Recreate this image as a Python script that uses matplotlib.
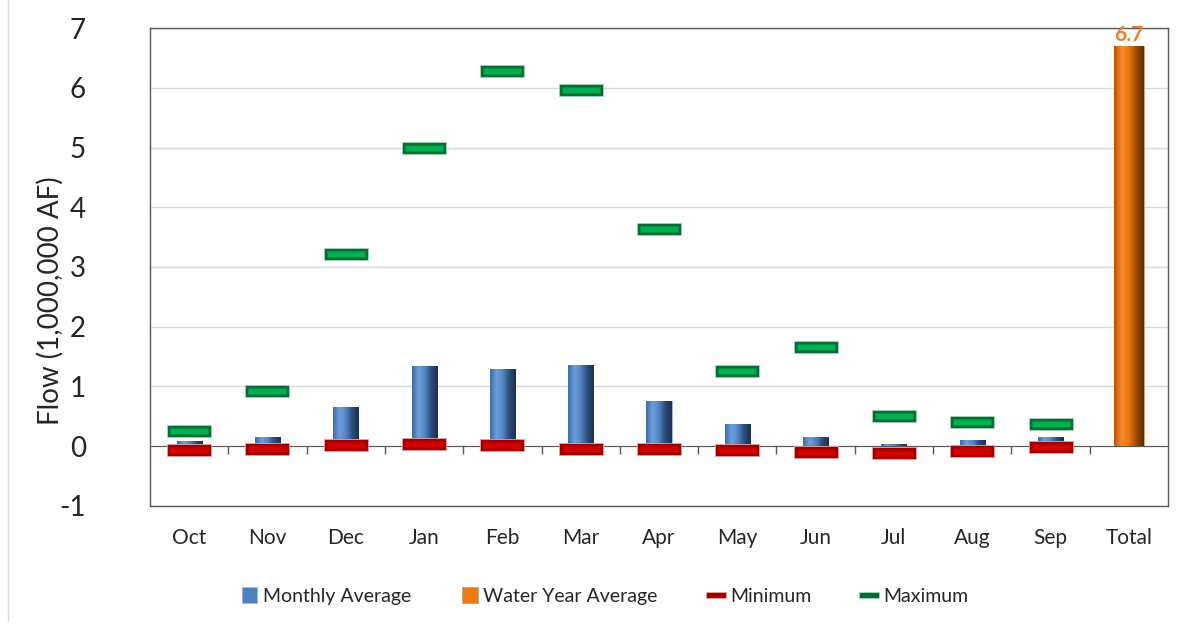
import numpy as np
import matplotlib
matplotlib.use("Agg")
import matplotlib.pyplot as plt
from matplotlib.path import Path
from matplotlib.lines import Line2D
from matplotlib.colors import LinearSegmentedColormap

plt.rcParams['font.family'] = ['Lato', 'DejaVu Sans']
plt.rcParams['axes.unicode_minus'] = False

# data (million acre-feet)
months = ['Oct', 'Nov', 'Dec', 'Jan', 'Feb', 'Mar', 'Apr', 'May', 'Jun', 'Jul', 'Aug', 'Sep']
monthly_avg = [0.08, 0.15, 0.65, 1.34, 1.29, 1.36, 0.75, 0.37, 0.15, 0.03, 0.11, 0.15]
minimum = [-0.06, -0.04, 0.02, 0.04, 0.02, -0.04, -0.04, -0.06, -0.10, -0.12, -0.08, -0.02]
maximum = [0.25, 0.93, 3.22, 4.99, 6.28, 5.96, 3.63, 1.26, 1.66, 0.51, 0.41, 0.37]
total_label = 'Total'
water_year_avg = 6.7

categories = months + [total_label]
x_m = np.arange(len(months))
x_tot = len(months)


def rect_marker(w, h):
    return Path([(-w / 2, -h / 2), (w / 2, -h / 2), (w / 2, h / 2), (-w / 2, h / 2), (-w / 2, -h / 2)],
                [Path.MOVETO, Path.LINETO, Path.LINETO, Path.LINETO, Path.CLOSEPOLY])


def shade(ax, bars, cmap):
    # fake the excel bevel look with a horizontal gradient clipped to each bar
    grad = np.linspace(0, 1, 64).reshape(1, -1)
    for p in bars:
        x0, y0, w, h = p.get_x(), p.get_y(), p.get_width(), p.get_height()
        im = ax.imshow(grad, extent=[x0, x0 + w, y0, y0 + h], cmap=cmap,
                       aspect='auto', zorder=p.get_zorder(), interpolation='bicubic')
        im.set_clip_path(p)


blue_cm = LinearSegmentedColormap.from_list('b', ['#3D6DA8', '#6E9FDA', '#5184C2', '#2A4B78', '#1B3152'])
orange_cm = LinearSegmentedColormap.from_list('o', ['#B85503', '#F98C2C', '#EE760F', '#9C4A03', '#5E2C00'])

fig = plt.figure(figsize=(11.77, 6.28), dpi=100)
ax = fig.add_axes([0.1274, 0.1943, 0.865, 0.7611])

ax.set_xlim(-0.5, len(categories) - 0.5)
ax.set_ylim(-1, 7)
ax.set_yticks(range(-1, 8))
ax.yaxis.grid(True, color='#D9D9D9', lw=1)
ax.set_axisbelow(True)

b1 = ax.bar(x_m, monthly_avg, width=0.32, color='#4F81BD', edgecolor='#9DB8DA', lw=0.6,
            zorder=2, label='Monthly Average')
b2 = ax.bar([x_tot], [water_year_avg], width=0.38, color='#F07A12', edgecolor='#C3A27E', lw=0.6,
            zorder=2, label='Water Year Average')
shade(ax, b1, blue_cm)
shade(ax, b2, orange_cm)
ax.set_xlim(-0.5, len(categories) - 0.5)
ax.set_ylim(-1, 7)

ax.text(x_tot, water_year_avg + 0.02, f'{water_year_avg:.1f}', ha='center', va='bottom',
        color='#ED7D31', fontsize=15, fontweight='bold')

outer = rect_marker(1, 0.29)
inner = rect_marker(1, 0.16)
mn, = ax.plot(x_m, minimum, ls='none', marker=outer, ms=31.5, mfc='#A00000', mec='#E6A0A0',
              mew=0.6, zorder=4, label='Minimum')
ax.plot(x_m, minimum, ls='none', marker=inner, ms=27, mfc='#D00000', mec='none', zorder=5)
mx, = ax.plot(x_m, maximum, ls='none', marker=outer, ms=31.5, mfc='#0B6B35', mec='#9ED9B5',
              mew=0.6, zorder=4, label='Maximum')
ax.plot(x_m, maximum, ls='none', marker=inner, ms=27, mfc='#00B050', mec='none', zorder=5)

# zero line with the category separators
zero = ax.secondary_xaxis(1 / 8)
zero.set_xticks(np.arange(0.5, len(months), 1))
zero.tick_params(length=6, width=1, color='#595959', direction='out', labelbottom=False)
zero.spines['bottom'].set_color('#595959')
zero.set_zorder(3)

ax.set_xticks(range(len(categories)))
ax.set_xticklabels(categories)
ax.tick_params(axis='x', length=0, pad=16, labelsize=15, colors='#262626')
ax.tick_params(axis='y', length=0, pad=46, labelsize=20, colors='#262626')
for s in ax.spines.values():
    s.set_color('#595959')
    s.set_linewidth(1)

ax.set_ylabel('Flow (1,000,000 AF)', fontsize=20, color='#262626')
ax.yaxis.set_label_coords(-0.085, 0.43)

leg = ax.legend(handles=[b1, b2, mn, mx], loc='center', ncol=4, frameon=False,
                bbox_to_anchor=(605 / 1177, 1 - 596 / 628), bbox_transform=fig.transFigure,
                fontsize=14, markerscale=0.45, handlelength=0.8, handleheight=0.9,
                handletextpad=0.3, columnspacing=2.6)
for t in leg.get_texts():
    t.set_color('#262626')

fig.add_artist(Line2D([8 / 1177, 8 / 1177], [1 - 620 / 628, 1], transform=fig.transFigure,
                      color='#D9D9D9', lw=1))

fig.savefig('out.png', dpi=100)
